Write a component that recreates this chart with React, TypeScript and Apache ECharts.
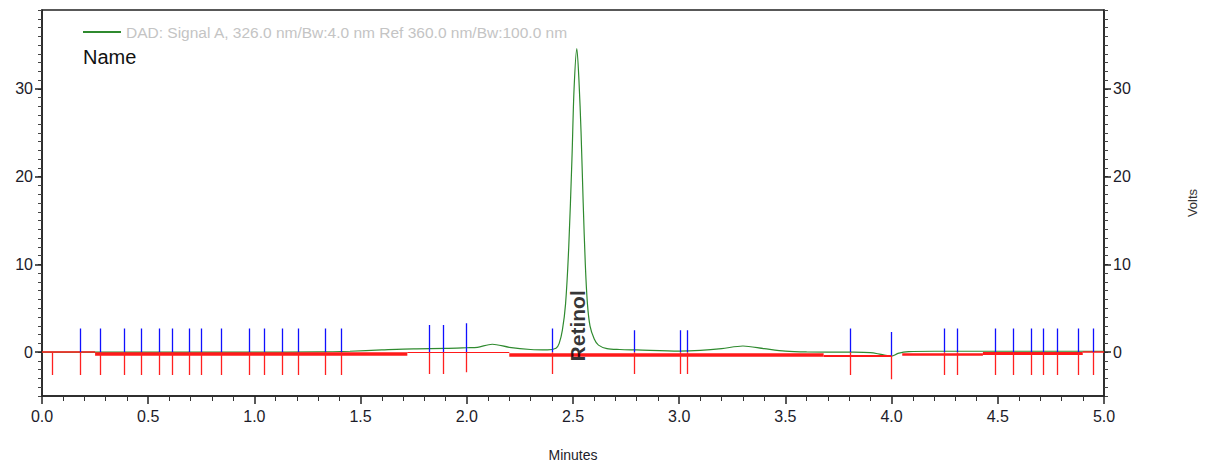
import React, { useEffect, useRef } from "react";
import * as echarts from "echarts";

const FONT = "'Liberation Sans Narrow', 'Liberation Sans', Arial, sans-serif";

const seriesName = "DAD: Signal A, 326.0 nm/Bw:4.0 nm Ref 360.0 nm/Bw:100.0 nm";

// chromatogram trace (minutes, volts)
const traceTime = [
  0, 0.2, 0.5, 1.0, 1.3, 1.45, 1.6, 1.75, 1.9, 2.0, 2.05, 2.12, 2.2, 2.3, 2.38,
  2.42, 2.435, 2.45, 2.465, 2.48, 2.495, 2.505, 2.518, 2.528, 2.538, 2.548, 2.558,
  2.568, 2.58, 2.6, 2.62, 2.66, 2.72, 2.8, 3.0, 3.1, 3.2, 3.3, 3.4, 3.5, 3.6, 3.8,
  3.9, 3.95, 4.0, 4.03, 4.08, 4.2, 4.5, 5.0,
];
const traceVolts = [
  0, 0, 0, 0, 0.02, 0.1, 0.25, 0.38, 0.42, 0.5, 0.55, 0.9, 0.55, 0.3, 0.25,
  0.45, 1.0, 2.5, 5.5, 12, 22, 30, 34.6, 31, 25, 17, 10,
  5.5, 3, 1.5, 0.8, 0.4, 0.3, 0.25, 0.12, 0.2, 0.4, 0.7, 0.4, 0.12, 0.03, 0.0,
  -0.05, -0.25, -0.45, -0.15, 0.05, 0.1, 0.1, 0.1,
];

// integration event markers (minutes)
const markerTimes = [
  0.179, 0.273, 0.386, 0.465, 0.551, 0.611, 0.693, 0.749, 0.842, 0.975, 1.048,
  1.13, 1.208, 1.334, 1.408, 1.821, 1.891, 1.998, 2.402, 2.79, 3.007, 3.038,
  3.803, 3.996, 4.247, 4.307, 4.488, 4.573, 4.659, 4.713, 4.779, 4.879, 4.951,
];
const markerBase = [
  0, 0, 0, 0, 0, 0, 0, 0, 0, 0, 0, 0, 0, 0, 0, 0, 0, 0, 0, 0, 0, 0,
  0, -0.4, 0, 0, 0, 0, 0, 0, 0, 0, 0,
];
const markerTop = [
  2.7, 2.7, 2.7, 2.7, 2.7, 2.7, 2.7, 2.7, 2.7, 2.7, 2.7, 2.7, 2.7, 2.7, 2.7,
  3.1, 3.1, 3.3, 2.7, 2.5, 2.5, 2.5, 2.7, 2.3, 2.7, 2.7, 2.7, 2.7, 2.7, 2.7,
  2.7, 2.7, 2.7,
];
const markerBottom = [
  -2.6, -2.6, -2.6, -2.6, -2.6, -2.6, -2.6, -2.6, -2.6, -2.6, -2.6, -2.6, -2.6,
  -2.6, -2.6, -2.5, -2.5, -2.3, -2.5, -2.5, -2.5, -2.5, -2.6, -3.1, -2.6, -2.6,
  -2.6, -2.6, -2.6, -2.6, -2.6, -2.6, -2.6,
];
const extraRedTimes = [0.046];

// baseline segments [start, end, level, width]
const baseStart = [0, 0.25, 1.72, 2.2, 3.68, 4.05, 4.43, 4.9];
const baseEnd = [0.25, 1.72, 2.2, 3.68, 4.0, 4.43, 4.9, 5.0];
const baseLevel = [0, -0.15, 0, -0.3, -0.38, -0.2, -0.08, 0];
const baseWidth = [1.5, 3.5, 1.2, 3.5, 2, 2.5, 3, 1.5];

const peakNames = ["Retinol"];
const peakTimes = [2.52];
const peakLabelY = [3.0];

const yLabels = [0, 10, 20, 30];

export default function App() {
  const ref = useRef<HTMLDivElement>(null);
  useEffect(() => {
    if (!ref.current) return;
    const chart = echarts.init(ref.current, undefined, { renderer: "svg" });

    const blue = markerTimes.map((t, i) => ({ coords: [[t, markerBase[i]], [t, markerTop[i]]] }));
    const red = markerTimes
      .map((t, i) => ({ coords: [[t, markerBase[i]], [t, markerBottom[i]]] }))
      .concat(extraRedTimes.map((t) => ({ coords: [[t, 0], [t, -2.6]] })));
    const base = baseStart.map((s, i) => ({
      coords: [[s, baseLevel[i]], [baseEnd[i], baseLevel[i]]],
      lineStyle: { width: baseWidth[i] },
    }));

    const labelColor = "#1c1c2a";
    const yCommon = {
      type: "value" as const,
      min: -5,
      max: 39,
      interval: 1,
      splitLine: { show: false },
    };

    chart.setOption({
      animation: false,
      textStyle: { fontFamily: FONT },
      grid: {
        left: 42,
        right: 104,
        top: 10,
        bottom: 72,
        show: true,
        borderColor: "#222",
        borderWidth: 1.5,
        backgroundColor: "#fff",
      },
      title: {
        text: "Name",
        left: 78,
        top: 42,
        textStyle: { fontFamily: FONT, fontSize: 20, fontWeight: "normal", color: "#111" },
      },
      legend: {
        left: 78,
        top: 19,
        icon: "rect",
        itemWidth: 38,
        itemHeight: 2,
        itemGap: 10,
        textStyle: { fontFamily: FONT, fontSize: 15.5, color: "#c4c4c4" },
        data: [seriesName],
      },
      xAxis: {
        type: "value",
        min: 0,
        max: 5,
        interval: 0.5,
        name: "Minutes",
        nameLocation: "middle",
        nameGap: 52,
        nameTextStyle: { fontFamily: FONT, fontSize: 14, color: labelColor },
        axisLine: { show: true, onZero: false, lineStyle: { color: "#222", width: 1.5 } },
        axisTick: { show: true, length: 8, lineStyle: { color: "#222", width: 1.5 } },
        minorTick: { show: true, splitNumber: 5, length: 5, lineStyle: { color: "#333" } },
        axisLabel: {
          fontFamily: FONT,
          fontSize: 16,
          color: labelColor,
          margin: 12,
          formatter: (v: number) => v.toFixed(1),
        },
        splitLine: { show: false },
      },
      yAxis: [
        {
          ...yCommon,
          position: "left",
          axisLine: { show: true, lineStyle: { color: "#222", width: 1.5 } },
          axisTick: { show: true, length: 4, lineStyle: { color: "#444" } },
          axisLabel: { customValues: yLabels, fontFamily: FONT, fontSize: 16, color: labelColor, margin: 9 },
        },
        {
          ...yCommon,
          position: "left",
          axisLine: { show: false },
          axisTick: { show: true, length: 7, customValues: yLabels, lineStyle: { color: "#222", width: 1.5 } },
          axisLabel: { show: false },
        },
        {
          ...yCommon,
          position: "right",
          axisLine: { show: true, lineStyle: { color: "#222", width: 1.5 } },
          axisTick: { show: true, length: 4, lineStyle: { color: "#444" } },
          axisLabel: { customValues: yLabels, fontFamily: FONT, fontSize: 16, color: labelColor, margin: 9 },
          name: "Volts",
          nameLocation: "middle",
          nameRotate: 90,
          nameGap: 82,
          nameTextStyle: { fontFamily: FONT, fontSize: 13, color: "#333" },
        },
        {
          ...yCommon,
          position: "right",
          axisLine: { show: false },
          axisTick: { show: true, length: 7, customValues: yLabels, lineStyle: { color: "#222", width: 1.5 } },
          axisLabel: { show: false },
        },
      ],
      series: [
        {
          name: seriesName,
          type: "line",
          data: traceTime.map((t, i) => [t, traceVolts[i]]),
          smooth: 0.3,
          showSymbol: false,
          symbol: "none",
          lineStyle: { color: "#2f8a2f", width: 1.2 },
          itemStyle: { color: "#2f8a2f" },
          z: 2,
        },
        {
          type: "lines",
          coordinateSystem: "cartesian2d",
          data: base,
          lineStyle: { color: "#ff1a1a", width: 3, opacity: 1 },
          z: 3,
        },
        {
          type: "lines",
          coordinateSystem: "cartesian2d",
          data: blue,
          lineStyle: { color: "#1010ff", width: 1.3, opacity: 1 },
          z: 4,
        },
        {
          type: "lines",
          coordinateSystem: "cartesian2d",
          data: red,
          lineStyle: { color: "#ff2020", width: 1.3, opacity: 1 },
          z: 4,
        },
        {
          type: "scatter",
          data: peakTimes.map((t, i) => ({ value: [t, peakLabelY[i]], name: peakNames[i] })),
          symbolSize: 0,
          label: {
            show: true,
            position: "inside",
            rotate: 90,
            formatter: (p: any) => p.name,
            fontFamily: "'Liberation Sans', Arial, sans-serif",
            fontSize: 21,
            fontWeight: "bold",
            color: "#000",
          },
          z: 5,
        },
      ],
    });
    return () => chart.dispose();
  }, []);
  return <div ref={ref} style={{ width: 1208, height: 468, margin: -8 }} />;
}
